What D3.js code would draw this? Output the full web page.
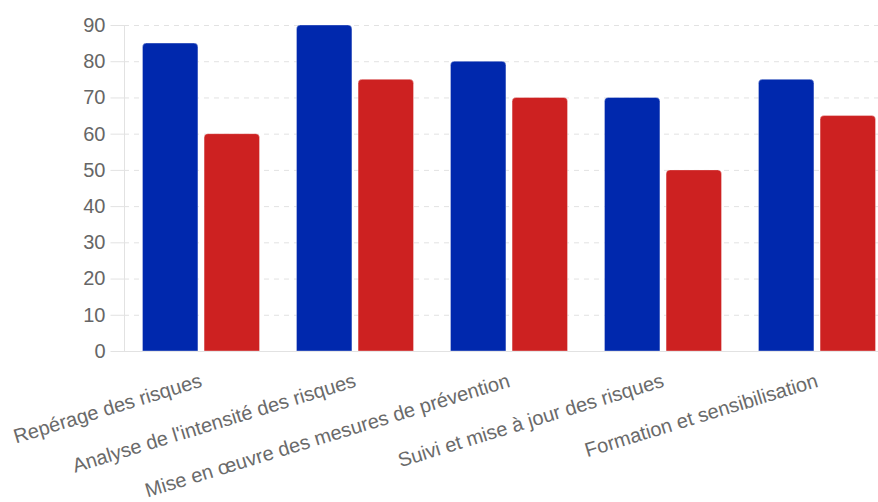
<!DOCTYPE html>
<html>
<head>
<meta charset="utf-8">
<script src="https://cdn.jsdelivr.net/npm/d3@7"></script>
<style>
  html, body { margin: 0; padding: 0; background: #fff; }
  svg { display: block; overflow: hidden; }
</style>
</head>
<body>
<svg id="chart" width="878" height="502"></svg>
<script>
// Risk-management stages
const categories = [
  "Repérage des risques",
  "Analyse de l'intensité des risques",
  "Mise en œuvre des mesures de prévention",
  "Suivi et mise à jour des risques",
  "Formation et sensibilisation"
];
const seriesBlue = [85, 90, 80, 70, 75];
const seriesRed = [60, 75, 70, 50, 65];
const yTicks = [0, 10, 20, 30, 40, 50, 60, 70, 80, 90];

const seriesNames = ["blue", "red"];
const colors = { blue: "#0028ad", red: "#cd2121" };
const values = { blue: seriesBlue, red: seriesRed };

const svg = d3.select("#chart");
const plotLeft = 124, plotRight = 894, plotTop = 25, plotBottom = 351;

const x = d3.scaleBand().domain(categories).range([plotLeft, plotRight])
  .paddingInner(0.2).paddingOuter(0.1);
const xInner = d3.scaleBand().domain(seriesNames).range([0, x.bandwidth()])
  .paddingInner(0.1).paddingOuter(0.05);
const y = d3.scaleLinear().domain([0, 90]).range([plotBottom, plotTop]);

const font = "Arial, 'Liberation Sans', Helvetica, sans-serif";

// Horizontal dashed gridlines
svg.append("g").selectAll("line").data(yTicks.filter(t => t > 0)).join("line")
  .attr("x1", plotLeft).attr("x2", 878)
  .attr("y1", d => y(d) + 0.5).attr("y2", d => y(d) + 0.5)
  .attr("stroke", "#e2e2e2").attr("stroke-width", 1)
  .attr("stroke-dasharray", "5,5");

// Y axis
const yAxis = d3.axisLeft(y).tickValues(yTicks).tickSize(14).tickPadding(5);
const gy = svg.append("g").attr("transform", `translate(${plotLeft + 0.5},0)`).call(yAxis);
gy.select(".domain").remove();
gy.selectAll(".tick line").attr("stroke", "#e2e2e2");
gy.selectAll(".tick text").attr("fill", "#666").style("font-family", font).style("font-size", "20px");

// Axis lines
svg.append("line").attr("x1", plotLeft + 0.5).attr("x2", plotLeft + 0.5)
  .attr("y1", plotTop).attr("y2", plotBottom).attr("stroke", "#e2e2e2");
svg.append("line").attr("x1", plotLeft).attr("x2", 878)
  .attr("y1", plotBottom + 0.5).attr("y2", plotBottom + 0.5).attr("stroke", "#e2e2e2");

// Bars with rounded top corners
function barPath(x0, w, yTop, yBase, r) {
  r = Math.min(r, w / 2, yBase - yTop);
  return `M${x0},${yBase}V${yTop + r}Q${x0},${yTop} ${x0 + r},${yTop}` +
         `H${x0 + w - r}Q${x0 + w},${yTop} ${x0 + w},${yTop + r}V${yBase}Z`;
}

const groups = svg.append("g").selectAll("g").data(categories).join("g")
  .attr("transform", d => `translate(${x(d)},0)`);

groups.selectAll("path")
  .data((d, i) => seriesNames.map(s => ({ s, v: values[s][i] })))
  .join("path")
  .attr("d", d => barPath(xInner(d.s), xInner.bandwidth(), y(d.v), y(0), 4))
  .attr("fill", d => colors[d.s])
  .attr("stroke", "rgba(255,255,255,0.35)")
  .attr("stroke-width", 1);

// Rotated category labels
svg.append("g").selectAll("text").data(categories).join("text")
  .attr("transform", d => `translate(${x(d) + x.bandwidth() / 2 - 2},${plotBottom + 22}) rotate(-17)`)
  .attr("text-anchor", "end")
  .attr("dy", "0.7em")
  .attr("fill", "#6a6a6a")
  .style("font-family", font)
  .style("font-size", "20px")
  .text(d => d);
</script>
</body>
</html>
